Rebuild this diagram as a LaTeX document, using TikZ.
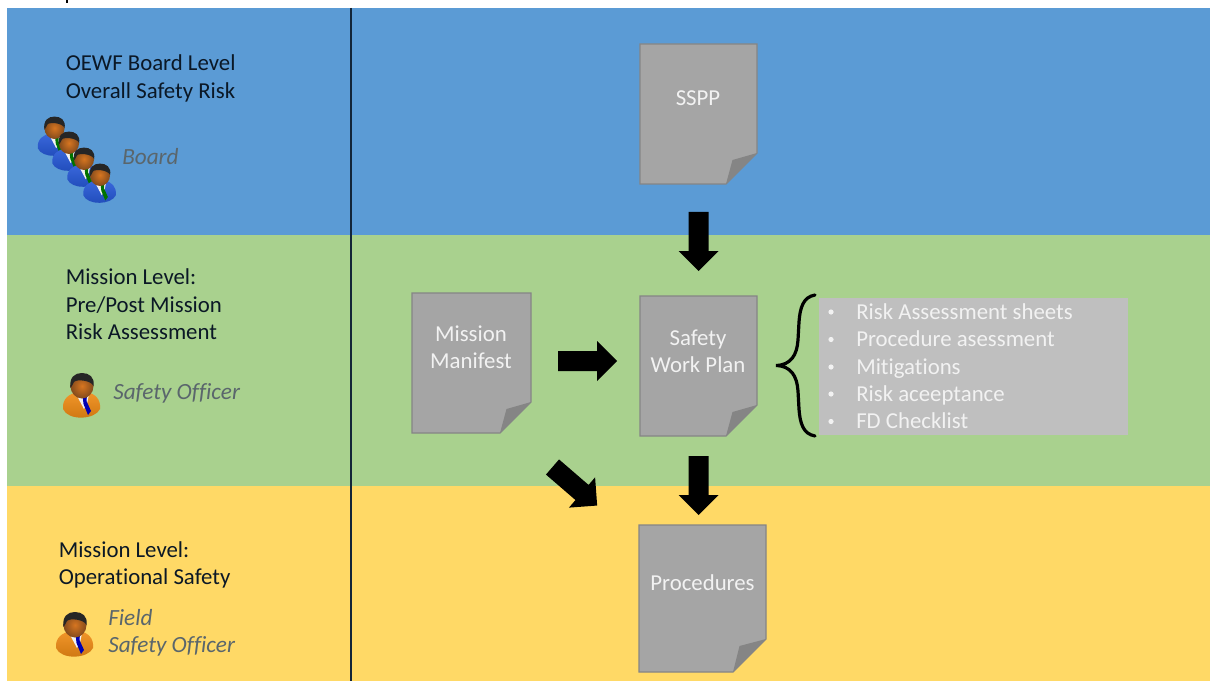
\documentclass[tikz,border=0pt]{standalone}
\usepackage{fontspec}
\setmainfont[Ligatures=NoCommon]{Carlito}
\definecolor{bandblue}{HTML}{5B9BD5}
\definecolor{bandgreen}{HTML}{A9D18E}
\definecolor{bandyellow}{HTML}{FFD966}
\definecolor{docfill}{HTML}{A5A5A5}
\definecolor{docedge}{HTML}{858585}
\definecolor{docfold}{HTML}{858585}
\definecolor{listfill}{HTML}{BFBFBF}
\definecolor{roletext}{HTML}{5A666C}
\definecolor{softwhite}{HTML}{F2F2F2}
\definecolor{inktext}{HTML}{0B1826}
\definecolor{suitblue}{HTML}{2457D8}
\definecolor{suitorange}{HTML}{F08A12}
\definecolor{skin}{HTML}{C9722B}
\tikzset{
  x=0.75pt,y=-0.75pt,
  lbl/.style={anchor=west,inner sep=0,align=left,text=inktext,font=\fontsize{17.1}{20.6}\selectfont},
  role/.style={anchor=west,inner sep=0,align=left,text=roletext,font=\fontsize{17.4}{20.6}\selectfont\itshape},
  doclabel/.style={inner sep=0,align=center,text=softwhite,font=\fontsize{17.1}{20.6}\selectfont},
  listitem/.style={anchor=base west,inner sep=0,text=softwhite,font=\fontsize{17.1}{20.6}\selectfont},
  docsheet/.style={fill=docfill,draw=docedge,line width=0.8pt},
  pics/blockarrow/.style={code={
    \fill[black] (0,-10)--(39,-10)--(39,-20)--(59,0)--(39,20)--(39,10)--(0,10)--cycle;}},
  pics/person/.style 2 args={code={
    \shade[top color=#1!90!white,bottom color=#1!85!black,draw=none]
      (-19,23) .. controls (-20,12) and (-12,8) .. (-5,6) -- (5,6)
      .. controls (13,8) and (19,13) .. (18,23) .. controls (13,34) and (-14,35) .. (-19,23) -- cycle;
    \fill[white!90!gray] (-6,8) -- (7,8) -- (5,18) -- (2,23) -- cycle;
    \fill[#2] (0.5,9) -- (5,9) -- (4.5,15) -- (9,25) -- (6,29) -- (1.5,18) -- cycle;
    \shade[inner color=skin!75!orange,outer color=skin!65!black] (0,0) ellipse (11.5 and 12.5);
    \fill[black!85] (-11.5,2) .. controls (-13,-9) and (-7,-13) .. (0,-13)
      .. controls (7,-13) and (13,-9) .. (11.5,0) .. controls (9,-6) and (-6,-7) .. (-8,-4)
      .. controls (-9,-2) and (-10,0) .. (-11.5,2) -- cycle;
  }}
}
\newcommand{\docsheetat}[5]{% x1 y1 x2 y2 fold
  \pgfmathsetmacro{\fx}{#3-#5}\pgfmathsetmacro{\fy}{#4-#5}
  \pgfmathsetmacro{\ix}{#3-#5+6.5}\pgfmathsetmacro{\iy}{#4-#5+7}
  \draw[docsheet] (#1,#2)--(#3,#2)--(#3,\fy)--(\fx,#4)--(#1,#4)--cycle;
  \fill[docfold] (#3,\fy)--(\fx,#4)--(\ix,\iy)--cycle;
}
\begin{document}
\begin{tikzpicture}
\useasboundingbox (0,0) rectangle (1210,681);
\clip (0,0) rectangle (1210,681);
\fill[white] (0,0) rectangle (1210,681);
% bands
\fill[bandblue] (7,8) rectangle (1210,235);
\fill[bandgreen] (7,235) rectangle (1210,486);
\fill[bandyellow] (7,486) rectangle (1210,681);
\draw[black,line width=2pt] (67,-1)--(67,3);
\draw[inktext!90!bandblue,line width=1.2pt] (351,8)--(351,681);
% left labels
\node[lbl] (boardtitle) at (65.5,78.5) {OEWF Board Level\\Overall Safety Risk};
\node[lbl] (missiontitle) at (65.5,304.5) {Mission Level:\\Pre/Post Mission\\Risk Assessment};
\node[lbl] (opstitle) at (58.5,565) {Mission Level:\\Operational Safety};
\node[role] (boardrole) at (122,156.5) {Board};
\node[role] (officerrole) at (113,393) {Safety Officer};
\node[role] (fieldrole) at (108,633) {Field\\Safety Officer};
% people
\pic[scale=.88] at (54.5,128) {person={suitblue}{green!45!black}};
\pic[scale=.88] at (69,143) {person={suitblue}{green!45!black}};
\pic[scale=.88] at (84,159) {person={suitblue}{green!45!black}};
\pic[scale=.88] at (100,175) {person={suitblue}{green!45!black}};
\pic at (82,386) {person={suitorange}{blue!70!black}};
\pic at (75,625) {person={suitorange}{blue!70!black}};
% documents
\docsheetat{640}{44}{757}{184}{31}
\docsheetat{412}{293}{531}{433}{31}
\docsheetat{640}{296}{757}{436}{31}
\docsheetat{639}{525}{766}{672}{33}
\node[doclabel] (sspp) at (698,98.5) {SSPP};
\node[doclabel] (manifest) at (471,347) {Mission\\Manifest};
\node[doclabel] (workplan) at (698,351.5) {Safety\\Work Plan};
\node[doclabel] (procedures) at (702.5,582.5) {Procedures};
% block arrows
\pic[rotate=-90] at (698.5,212) {blockarrow};
\pic[rotate=-90] at (698.5,456) {blockarrow};
\pic at (558,361) {blockarrow};
\pic[rotate=-40.8] at (552.5,467) {blockarrow};
% list
\fill[listfill] (819,298) rectangle (1128,435);
\foreach \yy in {312,339.5,367,394,421.5}{\fill[softwhite] (831,\yy) circle (2.6);}
\node[listitem] (l1) at (856,319) {Risk Assessment sheets};
\node[listitem] (l2) at (856,346.5) {Procedure asessment};
\node[listitem] (l3) at (856,374) {Mitigations};
\node[listitem] (l4) at (856,401) {Risk aceeptance};
\node[listitem] (l5) at (856,428.5) {FD Checklist};
% brace
\draw[black,line width=2.4pt,line cap=round]
  (815,295) .. controls (803,297) and (800,308) .. (799,322)
  -- (798,340) .. controls (797,355) and (791,365) .. (776,365.5)
  .. controls (791,366) and (797,376) .. (798,391)
  -- (799,409) .. controls (800,423) and (803,434) .. (815,436);
\end{tikzpicture}
\end{document}
